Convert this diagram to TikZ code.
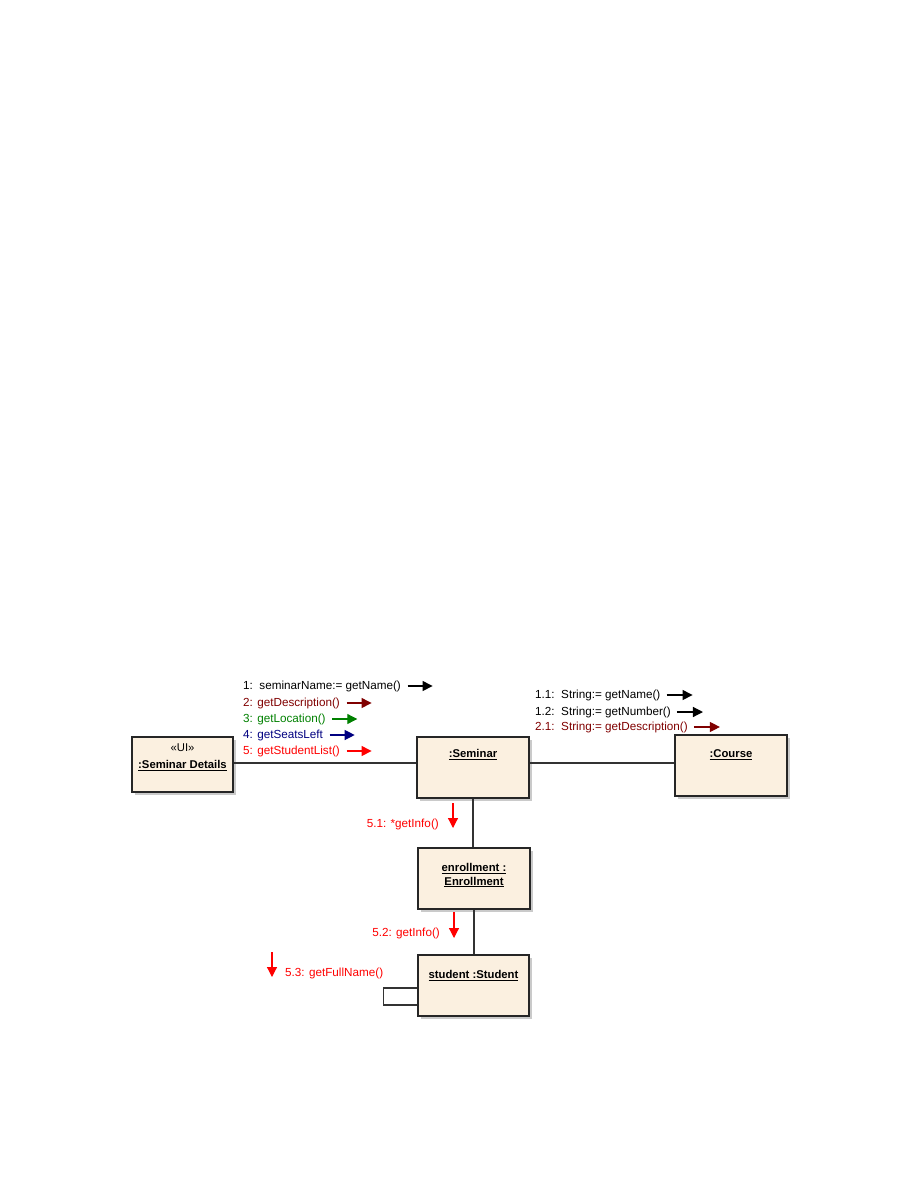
\documentclass[tikz,border=0pt]{standalone}
\usepackage{fontspec}
\setmainfont{Liberation Sans}
\usetikzlibrary{positioning,arrows.meta,shadows}
\definecolor{objfill}{HTML}{FBF0E0}
\definecolor{msgmaroon}{HTML}{800000}
\definecolor{msggreen}{HTML}{008000}
\definecolor{msgnavy}{HTML}{000080}
\definecolor{msgred}{HTML}{FF0000}
\newcommand{\umlfont}{\fontsize{11.3}{13.5}\selectfont}
\newcommand{\msgfont}{\fontsize{11.7}{13.5}\selectfont}
\tikzset{obj/.style={draw=black!85,line width=1.2pt,fill=objfill,minimum width=112pt,minimum height=61pt,inner sep=0pt,
  drop shadow={shadow xshift=3pt,shadow yshift=-3pt,opacity=.35,fill=black!60}},
  ttl/.style={anchor=north,font=\umlfont\bfseries,align=center},
  msg/.style={anchor=west,inner sep=0pt,font=\msgfont},
  assoc/.style={line width=1.1pt,black!80},
  tip/.style={line width=1.2pt,-{Triangle[length=10pt,width=10pt]}}}

\begin{document}
\begin{tikzpicture}[x=1pt,y=-1pt]
\useasboundingbox (0,0) rectangle (918,1188);
% objects
\node[obj,minimum width=101pt,minimum height=55pt] (details) at (182.5,764.5) {};
\node[obj] (seminar) at (473,767.5) {}; \node[obj] (course) at (731,765.5) {};
\node[obj] (enrol) at (474,878.5) {}; \node[obj,minimum width=111pt] (student) at (473.5,985.5) {};
\node[anchor=north,align=center,font=\umlfont] (detailst) at ([yshift=-3.5pt]details.north) {«UI»\\[3.5pt]\textbf{\underline{:Seminar Details}}};
\node[ttl] (seminart) at ([yshift=-9.5pt]seminar.north) {\underline{:Seminar}};
\node[ttl] (courset) at ([yshift=-11.5pt]course.north) {\underline{:Course}};
\node[ttl] (enrolt) at ([yshift=-12.5pt]enrol.north) {\underline{enrollment :}\\\underline{Enrollment}};
\node[ttl] (studentt) at ([yshift=-12.5pt]student.north) {\underline{student :Student}};
% links
\draw[assoc] ([yshift=1.5pt]details.east) -- ([yshift=1.5pt]details.east -| seminar.west);
\draw[assoc] ([yshift=2.5pt]course.west -| seminar.east) -- ([yshift=2.5pt]course.west);
\draw[assoc] (seminar.south) -- (seminar.south |- enrol.north); \draw[assoc] (enrol.south) -- (enrol.south |- student.north);
\draw[assoc] ([yshift=-2.5pt]student.west) -- ++(-34,0) -- ++(0,17) -- ++(34,0);
% messages
\foreach \n/\y/\col/\txt in {1/686/black/{1:\ \ seminarName:= getName()},2/703/msgmaroon/{2: getDescription()},3/719/msggreen/{3: getLocation()},4/735/msgnavy/{4: getSeatsLeft},5/751/msgred/{5: getStudentList()}}{
  \node[msg,text=\col] (m\n) at (243,\y) {\txt}; \draw[tip,color=\col] ([xshift=6.5pt]m\n.east) -- ++(25,0);}
\foreach \n/\y/\col/\txt in {11/695/black/{1.1:\ \ String:= getName()},12/712/black/{1.2:\ \ String:= getNumber()},21/727/msgmaroon/{2.1:\ \ String:= getDescription()}}{
  \node[msg,text=\col] (m\n) at (535,\y) {\txt}; \draw[tip,color=\col] ([xshift=6pt]m\n.east) -- ++(26,0);}
\node[msg,anchor=east,text=msgred] (m51) at (439,824) {5.1: *getInfo()}; \draw[tip,msgred] (453,803) -- (453,828);
\node[msg,anchor=east,text=msgred] (m52) at (440,933) {5.2: getInfo()}; \draw[tip,msgred] (454,912) -- (454,938);
\node[msg,text=msgred] (m53) at (285,973) {5.3: getFullName()}; \draw[tip,msgred] (272,952) -- (272,977);
\end{tikzpicture}
\end{document}
